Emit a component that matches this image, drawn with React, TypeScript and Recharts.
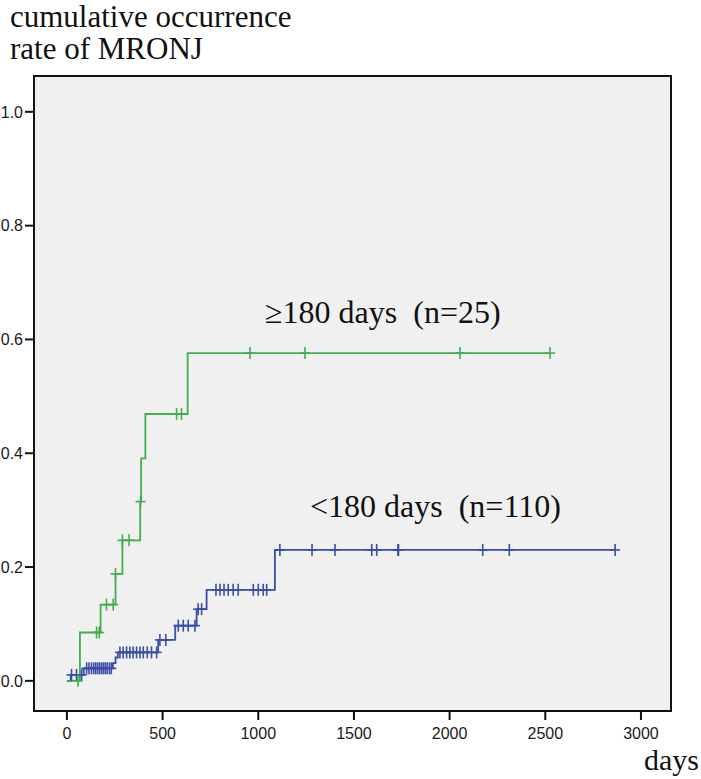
import { ComposedChart, Line, Scatter, XAxis, YAxis, CartesianGrid, ReferenceArea } from "recharts";

// >=180 days group (green)
const longStepDays = [0, 68, 176, 254, 290, 383, 388, 410, 631];
const longStepRates = [0, 0.085, 0.134, 0.188, 0.247, 0.315, 0.391, 0.469, 0.576];
const longCensorDays = [58, 155, 169, 207, 242, 254, 290, 325, 385, 573, 599, 957, 1244, 2054, 2525];

// <180 days group (blue)
const shortStepDays = [0, 20, 88, 240, 254, 266, 477, 566, 678, 730, 1087];
const shortStepRates = [0, 0.0105, 0.022, 0.031, 0.041, 0.05, 0.072, 0.097, 0.126, 0.16, 0.23];
const shortCensorDays = [
  24, 50, 77, 103, 115, 128, 140, 150, 160, 170, 180, 190, 200, 210, 222, 232, 277, 294, 312, 329, 346,
  364, 382, 399, 420, 442, 469, 486, 517, 582, 608, 634, 669, 686, 704, 779, 800, 821, 843, 869, 895,
  974, 1000, 1026, 1044, 1113, 1281, 1401, 1593, 1619, 1730, 1733, 2173, 2312, 2865,
];

const xTicks = [0, 500, 1000, 1500, 2000, 2500, 3000];
const yTicks = [0, 0.2, 0.4, 0.6, 0.8, 1.0];

const GREEN = "#3fb04c";
const BLUE = "#3a4ea6";

function rateAt(days: number[], rates: number[], t: number) {
  let v = 0;
  days.forEach((d, i) => {
    if (d <= t) v = rates[i];
  });
  return v;
}

function stepLine(days: number[], rates: number[], censors: number[]) {
  const pts = days.map((d, i) => ({ t: d, v: rates[i] }));
  const end = Math.max(...censors);
  pts.push({ t: end, v: rateAt(days, rates, end) });
  return pts;
}

function censorPoints(days: number[], rates: number[], censors: number[]) {
  return censors.map((c) => ({ t: c, v: rateAt(days, rates, c) }));
}

const longLine = stepLine(longStepDays, longStepRates, longCensorDays);
const shortLine = stepLine(shortStepDays, shortStepRates, shortCensorDays);
const longCensors = censorPoints(longStepDays, longStepRates, longCensorDays);
const shortCensors = censorPoints(shortStepDays, shortStepRates, shortCensorDays);

const plus = (color: string) => (p: any) => (
  <g>
    <line x1={p.cx - 5} x2={p.cx + 5} y1={p.cy} y2={p.cy} stroke={color} strokeWidth={1.6} />
    <line x1={p.cx} x2={p.cx} y1={p.cy - 6} y2={p.cy + 6} stroke={color} strokeWidth={1.6} />
  </g>
);

const tickStyle = { fontFamily: "Liberation Sans", fontSize: 16, fill: "#1a1a1a" };
const serif = { fontFamily: "Liberation Serif", fontSize: 31, fill: "#111" };

export default function App() {
  return (
    <div style={{ position: "absolute", left: 0, top: 0, width: 701, height: 779, background: "#fff" }}>
      <ComposedChart width={701} height={779} margin={{ top: 76, right: 30, bottom: 0, left: 0 }}>
        <CartesianGrid fill="#f0f0f0" horizontal={false} vertical={false} />
        <XAxis
          type="number"
          dataKey="t"
          domain={[-172, 3157]}
          ticks={xTicks}
          allowDataOverflow
          height={68}
          axisLine={false}
          tickSize={9}
          tickMargin={8}
          tickLine={{ stroke: "#111", strokeWidth: 2 }}
          tick={tickStyle}
        />
        <YAxis
          type="number"
          dataKey="v"
          domain={[-0.053, 1.063]}
          ticks={yTicks}
          allowDataOverflow
          width={34}
          axisLine={false}
          tickSize={9}
          tickMargin={2}
          tickLine={{ stroke: "#111", strokeWidth: 2 }}
          tick={tickStyle}
          tickFormatter={(v) => v.toFixed(1)}
        />
        <ReferenceArea x1={-172} x2={3157} y1={-0.053} y2={1.063} fill="none" fillOpacity={0} stroke="#111" strokeWidth={2} />
        <Line data={shortLine} dataKey="v" type="stepAfter" stroke={BLUE} strokeWidth={1.8} dot={false} isAnimationActive={false} />
        <Line data={longLine} dataKey="v" type="stepAfter" stroke={GREEN} strokeWidth={1.8} dot={false} isAnimationActive={false} />
        <Scatter data={shortCensors} dataKey="v" shape={plus(BLUE)} isAnimationActive={false} />
        <Scatter data={longCensors} dataKey="v" shape={plus(GREEN)} isAnimationActive={false} />
      </ComposedChart>
      <svg width={701} height={779} style={{ position: "absolute", left: 0, top: 0, pointerEvents: "none" }}>
        <text x={10} y={27} {...serif}>cumulative occurrence</text>
        <text x={10} y={59} {...serif}>rate of MRONJ</text>
        <text x={265} y={323} {...serif} fontSize={32} style={{ whiteSpace: "pre" }}>{"≥180 days  (n=25)"}</text>
        <text x={310} y={517} {...serif} fontSize={32} style={{ whiteSpace: "pre" }}>{"<180 days  (n=110)"}</text>
        <text x={699} y={770} textAnchor="end" {...serif} fontSize={30}>days</text>
      </svg>
    </div>
  );
}
